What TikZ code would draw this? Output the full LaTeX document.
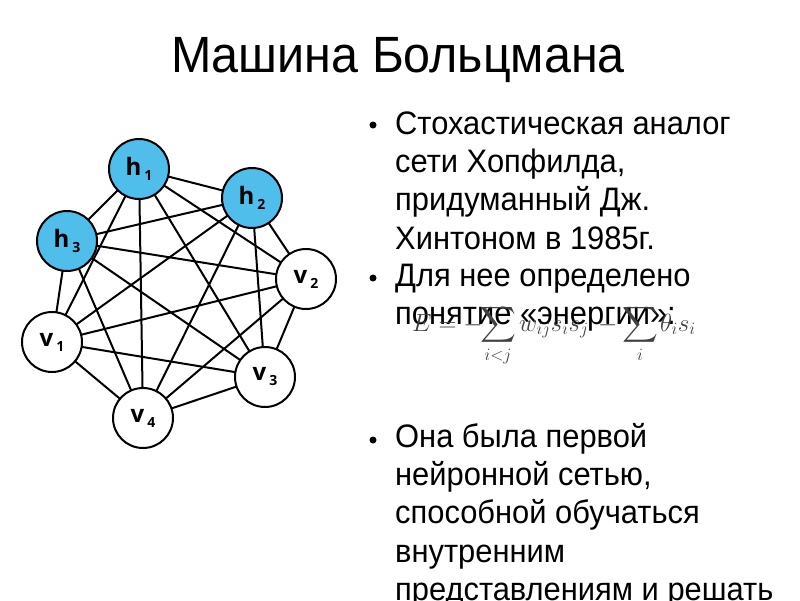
\documentclass[tikz,border=0pt]{standalone}
\usepackage{amsmath}
\usepackage{fontspec}
\setmainfont{Liberation Sans}
\newfontfamily\bodyfont{Liberation Sans}[FakeStretch=0.95]
\newfontfamily\lblfont{Open Sans}
\definecolor{hblue}{RGB}{80,190,235}
\begin{document}
\begin{tikzpicture}[x=1pt,y=-1pt,
  unit/.style={circle,draw=black,line width=2pt,minimum size=60pt,inner sep=0pt,font=\lblfont\bfseries\fontsize{24}{24}\selectfont},
  hid/.style={unit,fill=hblue},
  vis/.style={unit,fill=white},
  edge/.style={line width=2pt},
  txt/.style={anchor=base west,inner sep=0pt,font=\bodyfont\fontsize{32.5}{38}\selectfont},
  ttl/.style={anchor=base,inner sep=0pt,font=\bodyfont\fontsize{51}{60}\selectfont},
  fml/.style={inner sep=0pt,text=black!75,font=\fontsize{23}{23}\selectfont},
  bul/.style={fill=black}]
\useasboundingbox (0,0) rectangle (800,600);
\clip (0,0) rectangle (800,600);
\newcommand{\lbl}[2]{#1\hspace{3pt}\raisebox{-5pt}{\fontsize{14}{14}\selectfont #2}}
% title
\node[ttl] (title) at (398,72) {Машина Больцмана};
% node coordinates
\coordinate (ch1) at (139,169);
\coordinate (ch2) at (252,198);
\coordinate (ch3) at (67,241);
\coordinate (cv2) at (306,279);
\coordinate (cv1) at (52,342);
\coordinate (cv3) at (265,377);
\coordinate (cv4) at (143,418);
% edges (complete graph)
\foreach \a/\b in {h1/h2,h1/h3,h1/v1,h1/v2,h1/v3,h1/v4,
                   h2/h3,h2/v1,h2/v2,h2/v3,h2/v4,
                   h3/v1,h3/v2,h3/v3,h3/v4,
                   v1/v2,v1/v3,v1/v4,
                   v2/v3,v2/v4,
                   v3/v4}
  \draw[edge] (c\a) -- (c\b);
% nodes
\node[hid] (h1) at (ch1) {\lbl{h}{1}};
\node[hid] (h2) at (ch2) {\lbl{h}{2}};
\node[hid] (h3) at (ch3) {\lbl{h}{3}};
\node[vis] (v1) at (cv1) {\lbl{v}{1}};
\node[vis] (v2) at (cv2) {\lbl{v}{2}};
\node[vis] (v3) at (cv3) {\lbl{v}{3}};
\node[vis] (v4) at (cv4) {\lbl{v}{4}};
% bullets
\fill[bul] (373,125) circle[radius=3.5pt];
\fill[bul] (373,278) circle[radius=3.5pt];
\fill[bul] (373,440) circle[radius=3.5pt];
% text
\node[txt] (t1) at (395,134) {Стохастическая аналог};
\node[txt] (t2) at (395,172) {сети Хопфилда,};
\node[txt] (t3) at (395,210.5) {придуманный Дж.};
\node[txt] (t4) at (395,249) {Хинтоном в 1985г.};
\node[txt] (t5) at (395,286) {Для нее определено};
\node[txt] (t6) at (395,324) {понятие «энергии»:};
% formula
\node[fml,anchor=base west] (fE) at (412,331) {$E=-$};
\node[fml,anchor=base] (fS1) at (498,331) {$\displaystyle\sum_{i<j}$};
\node[fml,anchor=base west] (fW) at (519,331) {$w_{ij}s_is_j$};
\node[fml,anchor=base west] (fM) at (598,331) {$-$};
\node[fml,anchor=base] (fS2) at (640,331) {$\displaystyle\sum_{i}$};
\node[fml,anchor=base west] (fT) at (660,331) {$\theta_i s_i$};
\node[txt] (t7) at (395,447) {Она была первой};
\node[txt] (t8) at (395,485.3) {нейронной сетью,};
\node[txt] (t9) at (395,523.6) {способной обучаться};
\node[txt] (t10) at (395,562) {внутренним};
\node[txt] (t11) at (395,600.3) {представлениям и решать};
\end{tikzpicture}
\end{document}
